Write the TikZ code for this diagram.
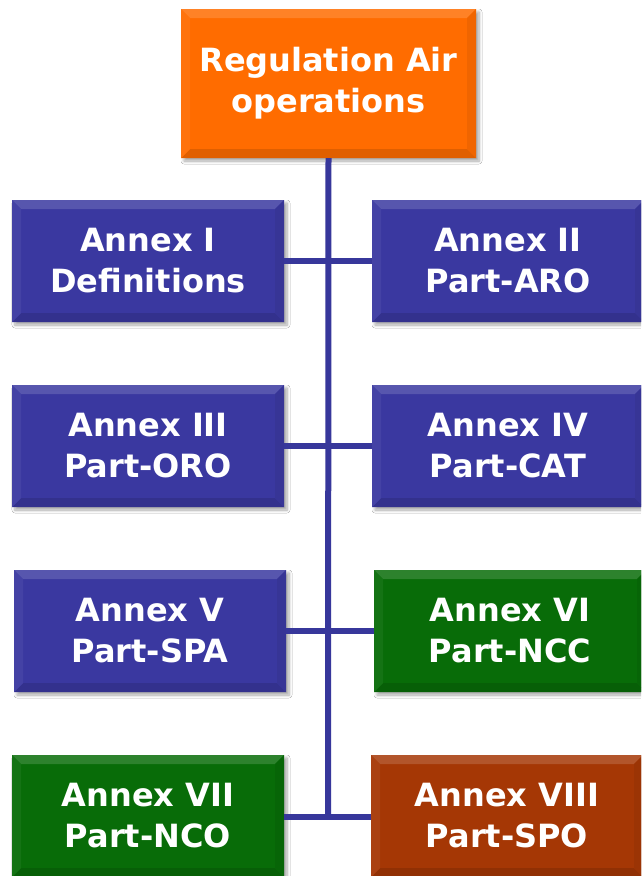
\documentclass[tikz,border=0pt]{standalone}
\usepackage{fontspec}
\setmainfont{DejaVu Sans}
\usetikzlibrary{shadows.blur}
\definecolor{regorange}{RGB}{255,108,0}
\definecolor{annblue}{RGB}{58,56,160}
\definecolor{anngreen}{RGB}{8,108,8}
\definecolor{annbrown}{RGB}{165,55,5}
\definecolor{linkblue}{RGB}{55,55,155}
\tikzset{
  bevbox/.style={rectangle, inner sep=0pt, align=center, text=white,
    font=\bfseries\fontsize{32}{41}\selectfont,
    fill=#1,
    blur shadow={shadow xshift=3pt, shadow yshift=-3pt, shadow blur steps=6, shadow opacity=35, shadow blur radius=3pt},
    path picture={
      \fill[#1!85!white] (path picture bounding box.north west) -- (path picture bounding box.north east)
        -- ([shift={(-9pt,-9pt)}]path picture bounding box.north east) -- ([shift={(9pt,-9pt)}]path picture bounding box.north west) -- cycle;
      \fill[#1!88!black] (path picture bounding box.south west) -- (path picture bounding box.south east)
        -- ([shift={(-9pt,9pt)}]path picture bounding box.south east) -- ([shift={(9pt,9pt)}]path picture bounding box.south west) -- cycle;
      \fill[#1!95!white] (path picture bounding box.north west) -- ([shift={(9pt,-9pt)}]path picture bounding box.north west)
        -- ([shift={(9pt,9pt)}]path picture bounding box.south west) -- (path picture bounding box.south west) -- cycle;
      \fill[#1!94!black] (path picture bounding box.north east) -- ([shift={(-9pt,-9pt)}]path picture bounding box.north east)
        -- ([shift={(-9pt,9pt)}]path picture bounding box.south east) -- (path picture bounding box.south east) -- cycle;
    }},
  annex/.style={bevbox=#1, minimum width=272pt, minimum height=122pt},
  link/.style={draw=linkblue, line width=6pt}
}
\begin{document}
\begin{tikzpicture}[x=1pt,y=-1pt]
\useasboundingbox (0,0) rectangle (641,876);
\clip (0,0) rectangle (641,876);
\fill[white] (0,0) rectangle (641,876);
\coordinate (j4) at (328,815);
\node[bevbox=regorange, minimum width=295pt, minimum height=149pt] (top) at (328.5,83.5) {Regulation Air\\operations};
\node[annex=annblue] (a1) at (148,261) {Annex I\\Definitions};
\node[annex=annblue] (a2) at (508,261) {Annex II\\Part-ARO};
\node[annex=annblue] (a3) at (148,446) {Annex III\\Part-ORO};
\node[annex=annblue] (a4) at (508,446) {Annex IV\\Part-CAT};
\node[annex=annblue] (a5) at (150,631) {Annex V\\Part-SPA};
\node[annex=anngreen] (a6) at (510,631) {Annex VI\\Part-NCC};
\node[annex=anngreen] (a7) at (148,816) {Annex VII\\Part-NCO};
\node[annex=annbrown] (a8) at (507,816) {Annex VIII\\Part-SPO};
\draw[link] (top.south) -- (j4);
\draw[link] (a1.east) -- (a2.west);
\draw[link] (a3.east) -- (a4.west);
\draw[link] (a5.east) -- (a6.west);
\draw[link] ([yshift=-1pt]a7.east) -- ([yshift=-1pt]a8.west);
\end{tikzpicture}
\end{document}
